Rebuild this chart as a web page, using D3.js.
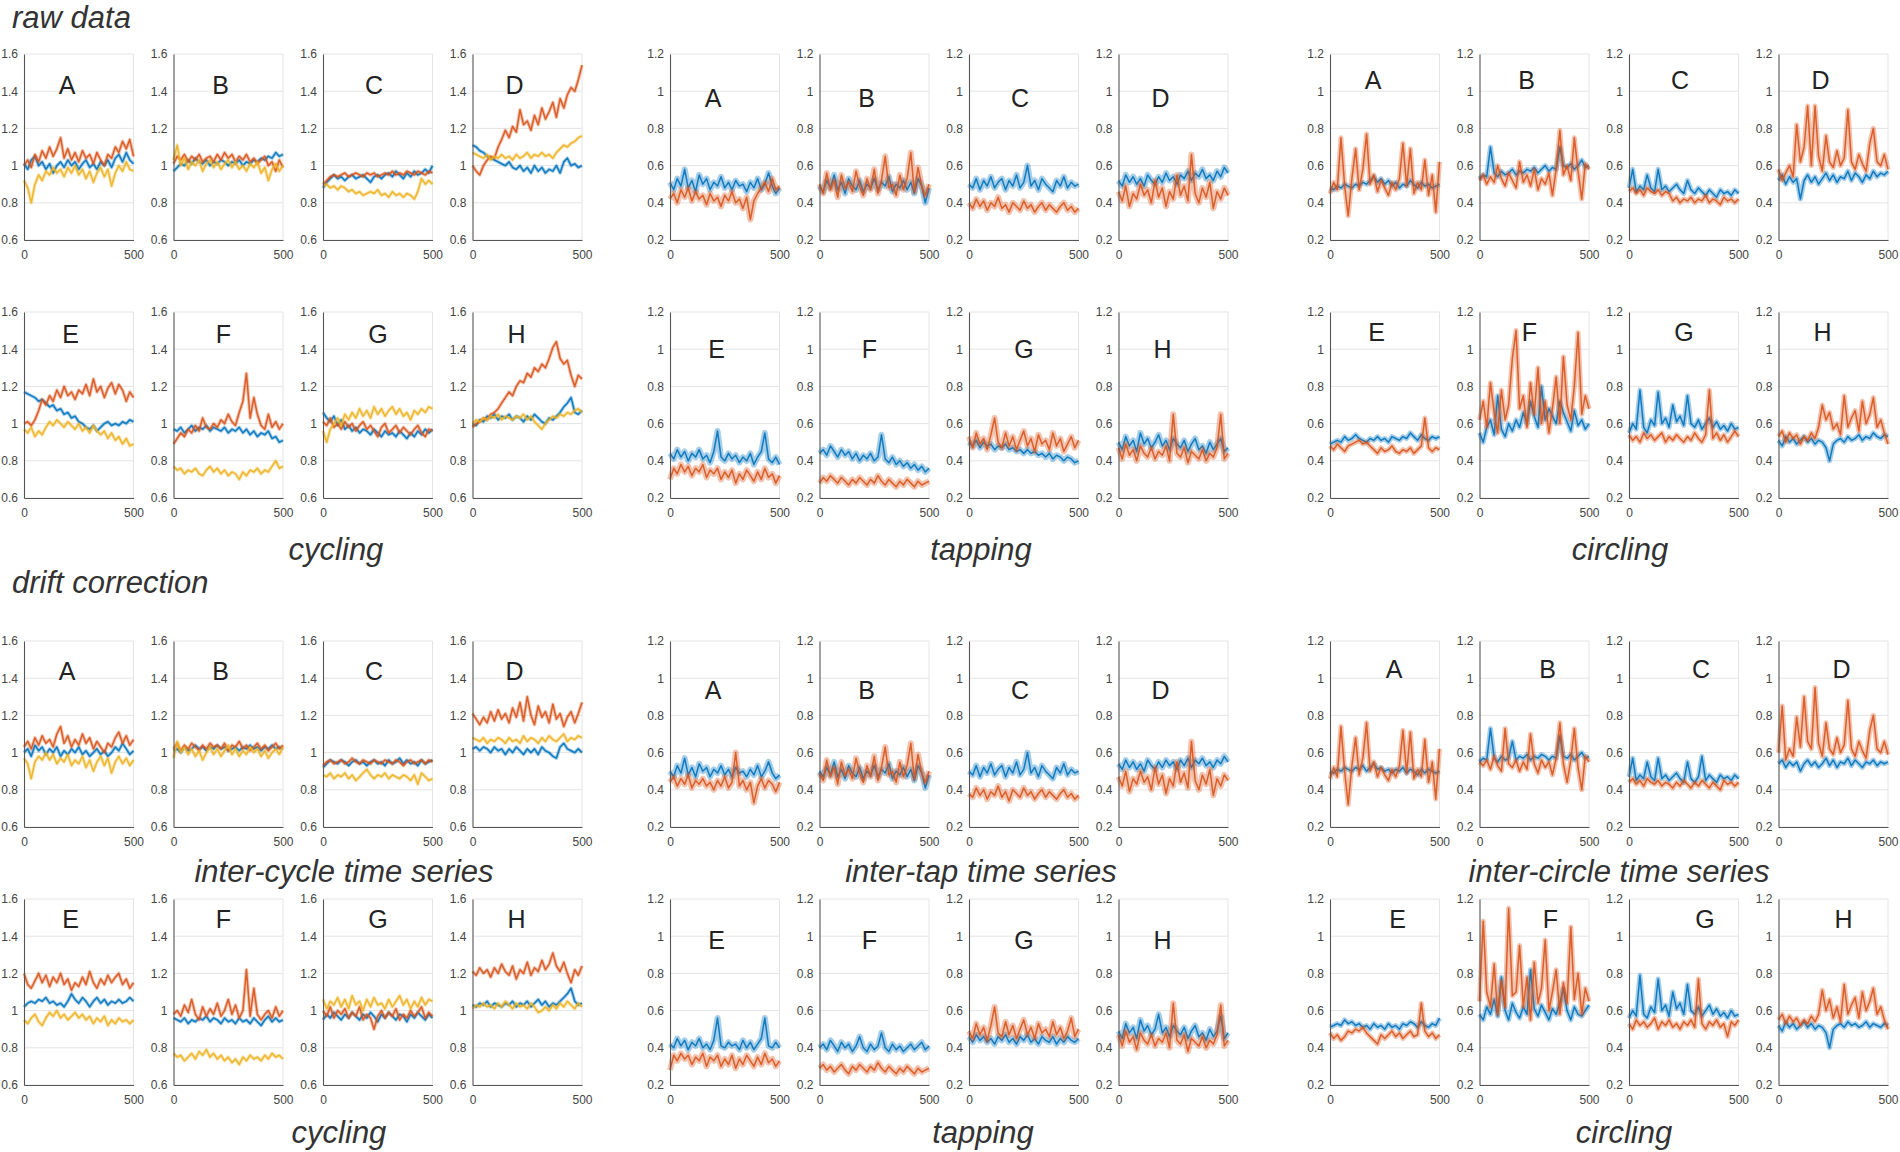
<!DOCTYPE html>
<html>
<head>
<meta charset="utf-8">
<script src="https://cdn.jsdelivr.net/npm/d3@7"></script>
<style>
  body { margin: 0; background: #fff; }
  svg text { font-family: "Liberation Sans", Arial, Helvetica, sans-serif; }
</style>
</head>
<body>
<svg id="chart" width="1900" height="1152"></svg>
<script>
// trial numbers of the sampled points (x axis)
const trialNo = [0,17,33,50,67,83,100,117,133,150,167,183,200,217,233,250,267,283,300,317,333,350,367,383,400,417,433,450,467,483,500];

const cycTicks = [0.6, 0.8, 1, 1.2, 1.4, 1.6];
const tapTicks = [0.2, 0.4, 0.6, 0.8, 1, 1.2];
const letters = ['A','B','C','D','E','F','G','H'];

// ---------- cycling, raw data (b = blue, r = red, y = yellow) ----------
const cycRawA_b = [1.01,0.98,1.03,1.05,1.00,1.02,0.98,1.01,0.96,1.00,1.02,0.99,1.03,1.00,1.02,0.98,1.01,1.03,0.99,1.01,0.98,1.02,1.00,1.03,0.99,1.04,1.06,1.02,1.07,1.03,1.01];
const cycRawA_r = [1.00,1.03,0.99,1.06,1.02,1.08,1.04,1.10,1.05,1.09,1.15,1.04,1.09,1.03,1.07,1.02,1.08,1.04,1.06,1.01,1.07,1.03,1.00,1.06,1.04,1.10,1.07,1.13,1.09,1.14,1.05];
const cycRawA_y = [0.92,0.88,0.80,0.90,0.95,0.92,0.97,0.95,0.99,0.96,0.98,0.94,0.99,0.96,1.00,0.95,0.98,0.93,0.97,0.91,0.96,0.99,0.94,0.98,0.89,0.96,1.00,0.97,1.02,0.98,0.97];
const cycRawB_b = [0.97,0.99,1.01,1.00,1.03,1.01,1.04,1.02,1.01,1.03,1.00,1.02,1.01,1.03,1.02,1.00,1.02,1.01,1.03,1.00,1.02,1.01,1.03,1.02,1.04,1.03,1.05,1.04,1.07,1.05,1.06];
const cycRawB_r = [1.01,1.05,1.03,1.06,1.02,1.05,1.03,1.06,1.02,1.04,1.05,1.02,1.06,1.03,1.07,1.04,1.06,1.02,1.05,1.03,1.06,1.02,1.04,1.01,1.03,1.05,1.00,1.02,0.97,1.03,0.99];
const cycRawB_y = [1.03,1.11,1.00,1.04,0.98,1.02,1.00,1.03,0.97,1.01,1.03,0.99,1.02,0.98,1.01,1.03,0.99,1.02,0.98,1.00,0.97,1.01,0.99,1.02,0.96,0.99,0.92,0.98,1.01,0.97,1.00];
const cycRawC_b = [0.88,0.91,0.93,0.95,0.93,0.94,0.92,0.94,0.95,0.93,0.94,0.95,0.93,0.91,0.94,0.95,0.93,0.95,0.96,0.94,0.97,0.95,0.93,0.96,0.94,0.97,0.95,0.96,0.98,0.96,1.00];
const cycRawC_r = [0.90,0.92,0.94,0.95,0.94,0.95,0.96,0.94,0.95,0.96,0.95,0.94,0.96,0.95,0.96,0.94,0.95,0.96,0.95,0.97,0.95,0.96,0.95,0.97,0.96,0.95,0.97,0.96,0.95,0.97,0.96];
const cycRawC_y = [0.89,0.90,0.88,0.89,0.87,0.89,0.88,0.86,0.87,0.85,0.86,0.84,0.85,0.86,0.85,0.87,0.84,0.85,0.83,0.86,0.84,0.85,0.83,0.85,0.84,0.82,0.86,0.93,0.90,0.92,0.90];
const cycRawD_b = [1.11,1.10,1.08,1.07,1.05,1.04,1.03,1.02,1.01,1.00,1.02,0.99,0.98,1.00,0.97,0.99,0.96,1.00,0.97,0.99,0.96,0.98,0.97,1.00,0.96,1.02,1.04,1.00,1.01,0.99,1.00];
const cycRawD_r = [1.00,0.97,0.95,1.00,1.03,1.05,1.04,1.10,1.14,1.19,1.15,1.21,1.18,1.30,1.22,1.24,1.19,1.27,1.22,1.31,1.25,1.29,1.34,1.26,1.36,1.31,1.38,1.42,1.40,1.46,1.54];
const cycRawD_y = [1.07,1.06,1.05,1.04,1.06,1.03,1.05,1.04,1.06,1.04,1.05,1.03,1.06,1.04,1.05,1.07,1.04,1.06,1.05,1.07,1.05,1.06,1.04,1.07,1.09,1.11,1.10,1.12,1.13,1.15,1.16];
const cycRawE_b = [1.17,1.16,1.15,1.14,1.12,1.13,1.11,1.09,1.10,1.07,1.08,1.05,1.06,1.03,1.04,1.01,1.00,0.98,0.97,0.99,0.96,0.98,1.00,1.01,0.99,1.00,0.99,1.01,1.00,1.02,1.01];
const cycRawE_r = [1.00,1.01,0.99,1.02,1.07,1.13,1.10,1.15,1.12,1.18,1.14,1.20,1.15,1.17,1.13,1.18,1.16,1.21,1.15,1.24,1.17,1.20,1.14,1.19,1.22,1.16,1.21,1.18,1.12,1.17,1.14];
const cycRawE_y = [0.97,0.95,0.98,0.93,0.96,0.94,0.98,1.01,0.99,1.02,1.00,0.98,1.01,0.99,0.97,1.00,0.96,0.98,0.95,0.99,0.96,0.94,0.96,0.92,0.95,0.91,0.93,0.89,0.92,0.88,0.89];
const cycRawF_b = [0.97,0.96,0.98,0.95,0.97,0.99,0.96,0.98,0.97,0.99,0.96,0.98,0.97,0.96,0.98,0.95,0.97,0.96,0.98,0.95,0.97,0.94,0.96,0.93,0.95,0.94,0.96,0.92,0.93,0.90,0.91];
const cycRawF_r = [0.89,0.92,0.95,0.93,0.97,0.95,0.99,0.96,1.03,0.98,0.97,1.00,0.98,1.02,1.00,1.05,1.01,0.99,1.06,1.12,1.27,1.03,1.14,1.05,0.99,0.97,1.05,0.98,1.01,0.97,1.00];
const cycRawF_y = [0.77,0.75,0.76,0.73,0.75,0.74,0.76,0.73,0.72,0.75,0.77,0.74,0.76,0.73,0.75,0.72,0.74,0.73,0.70,0.74,0.72,0.75,0.74,0.76,0.73,0.75,0.74,0.77,0.80,0.76,0.77];
const cycRawG_b = [1.06,1.03,1.01,1.04,0.99,1.02,0.97,0.99,0.96,0.98,0.95,0.97,0.96,0.94,0.97,0.95,0.93,0.96,0.94,0.95,0.93,0.96,0.94,0.92,0.95,0.93,0.96,0.94,0.97,0.95,0.97];
const cycRawG_r = [1.01,0.99,1.03,0.98,1.00,0.97,1.01,0.98,1.00,0.96,0.99,1.01,0.97,0.99,0.96,0.93,0.98,1.00,0.95,0.97,0.99,0.95,0.98,0.96,0.94,0.97,0.99,0.95,0.93,0.97,0.96];
const cycRawG_y = [0.96,0.90,0.97,1.00,1.03,0.99,1.05,1.02,1.06,1.03,1.08,1.04,1.07,1.03,1.09,1.05,1.08,1.04,1.07,1.09,1.05,1.08,1.04,1.06,1.02,1.07,1.05,1.08,1.06,1.09,1.08];
const cycRawH_b = [1.00,0.99,1.02,1.01,1.04,1.03,1.05,1.02,1.04,1.03,1.05,1.02,1.04,1.03,1.01,1.04,1.02,1.05,1.03,1.01,1.00,1.03,1.02,1.04,1.06,1.09,1.11,1.14,1.06,1.05,1.07];
const cycRawH_r = [0.98,1.00,1.01,1.03,1.02,1.05,1.06,1.08,1.11,1.14,1.17,1.15,1.20,1.23,1.22,1.27,1.25,1.30,1.28,1.32,1.30,1.35,1.41,1.44,1.35,1.32,1.34,1.26,1.20,1.26,1.24];
const cycRawH_y = [1.00,1.02,1.01,1.03,1.02,1.04,1.03,1.05,1.02,1.04,1.03,1.02,1.04,1.03,1.05,1.02,1.04,1.01,0.99,0.97,1.00,1.02,1.04,1.03,1.05,1.04,1.06,1.05,1.07,1.08,1.06];

// ---------- cycling, drift corrected ----------
const cycDetA_b = [1.00,1.02,0.98,1.04,1.01,1.03,0.99,1.02,1.00,1.03,0.98,1.01,0.99,1.02,1.00,1.03,0.99,1.01,0.98,1.00,1.02,0.99,1.01,0.98,1.00,1.03,1.01,1.05,1.02,0.99,1.01];
const cycDetA_r = [1.03,1.06,1.02,1.08,1.04,1.09,1.05,1.07,1.03,1.10,1.14,1.05,1.09,1.03,1.07,1.04,1.10,1.05,1.08,1.02,1.06,1.03,1.00,1.05,1.03,1.08,1.11,1.05,1.09,1.04,1.07];
const cycDetA_y = [0.97,0.94,0.86,0.95,0.98,0.96,1.00,0.96,0.99,0.94,0.97,0.95,0.99,0.93,0.96,0.94,0.98,0.92,0.96,0.90,0.95,0.98,0.93,0.97,0.89,0.95,0.98,0.94,0.97,0.93,0.96];
const cycDetB_b = [1.01,1.02,1.00,1.03,1.01,1.02,1.04,1.02,1.03,1.01,1.03,1.02,1.04,1.02,1.03,1.01,1.02,1.03,1.01,1.03,1.02,1.04,1.02,1.03,1.01,1.03,1.02,1.04,1.02,1.03,1.02];
const cycDetB_r = [1.02,1.05,1.01,1.04,1.02,1.05,1.03,1.01,1.04,1.02,1.05,1.03,1.04,1.02,1.05,1.01,1.04,1.03,1.06,1.02,1.04,1.01,1.03,1.05,1.02,1.04,1.01,1.03,1.05,1.02,1.04];
const cycDetB_y = [0.97,1.06,1.00,1.03,0.99,1.02,0.98,1.01,0.96,1.00,1.03,0.99,1.02,0.98,1.01,1.04,0.99,1.02,0.98,1.01,0.99,1.03,1.00,1.02,0.98,1.01,0.97,1.00,1.02,0.99,1.03];
const cycDetC_b = [0.92,0.94,0.96,0.95,0.94,0.96,0.95,0.93,0.95,0.96,0.94,0.95,0.93,0.95,0.96,0.94,0.95,0.93,0.96,0.94,0.95,0.97,0.94,0.96,0.94,0.95,0.93,0.96,0.94,0.95,0.96];
const cycDetC_r = [0.93,0.95,0.96,0.94,0.95,0.96,0.94,0.95,0.97,0.95,0.94,0.96,0.95,0.94,0.96,0.95,0.94,0.96,0.95,0.94,0.96,0.95,0.93,0.95,0.96,0.94,0.95,0.96,0.94,0.96,0.95];
const cycDetC_y = [0.88,0.87,0.89,0.86,0.88,0.87,0.89,0.86,0.88,0.85,0.87,0.89,0.91,0.88,0.86,0.88,0.87,0.89,0.86,0.88,0.87,0.86,0.88,0.87,0.85,0.88,0.83,0.89,0.87,0.85,0.86];
const cycDetD_b = [1.02,1.03,1.01,1.03,1.02,1.00,1.03,1.01,1.02,0.99,1.02,1.00,1.03,1.01,0.99,1.02,1.00,1.02,0.99,1.03,1.01,1.00,0.98,0.97,1.03,1.05,1.02,1.01,1.00,1.02,1.00];
const cycDetD_r = [1.21,1.18,1.15,1.19,1.16,1.22,1.17,1.23,1.18,1.21,1.16,1.24,1.19,1.27,1.17,1.30,1.20,1.15,1.25,1.19,1.22,1.16,1.26,1.18,1.21,1.14,1.19,1.22,1.16,1.21,1.27];
const cycDetD_y = [1.08,1.07,1.06,1.08,1.05,1.07,1.06,1.08,1.07,1.05,1.08,1.06,1.07,1.05,1.09,1.06,1.08,1.07,1.05,1.08,1.06,1.09,1.07,1.06,1.08,1.10,1.06,1.08,1.07,1.09,1.08];
const cycDetE_b = [1.02,1.04,1.05,1.04,1.06,1.05,1.07,1.04,1.05,1.03,1.04,1.02,1.05,1.09,1.06,1.04,1.07,1.05,1.02,1.05,1.07,1.04,1.06,1.03,1.05,1.04,1.06,1.04,1.05,1.07,1.05];
const cycDetE_r = [1.20,1.14,1.12,1.16,1.20,1.15,1.19,1.13,1.18,1.15,1.20,1.14,1.17,1.11,1.15,1.13,1.18,1.14,1.21,1.15,1.12,1.17,1.14,1.19,1.15,1.18,1.20,1.14,1.17,1.12,1.15];
const cycDetE_y = [0.95,0.93,0.96,0.98,0.94,0.92,0.96,0.99,0.97,1.00,0.96,0.98,0.95,0.97,0.99,0.96,0.98,0.95,0.97,0.93,0.96,0.94,0.97,0.92,0.95,0.93,0.96,0.94,0.95,0.93,0.95];
const cycDetF_b = [0.96,0.95,0.94,0.96,0.93,0.95,0.94,0.96,0.95,0.97,0.94,0.96,0.95,0.93,0.96,0.94,0.95,0.93,0.96,0.94,0.95,0.93,0.96,0.94,0.92,0.95,0.97,0.94,0.96,0.94,0.95];
const cycDetF_r = [0.98,1.00,0.97,1.03,0.99,1.06,0.98,0.95,1.02,0.97,1.01,0.98,1.04,0.97,1.00,1.06,0.98,1.03,0.96,1.00,1.22,0.97,1.12,0.98,0.95,0.98,1.00,0.96,1.02,0.97,1.00];
const cycDetF_y = [0.77,0.75,0.76,0.73,0.75,0.77,0.74,0.78,0.76,0.79,0.75,0.77,0.74,0.76,0.73,0.75,0.72,0.74,0.71,0.75,0.73,0.76,0.74,0.75,0.73,0.76,0.74,0.77,0.75,0.76,0.74];
const cycDetG_b = [0.95,0.98,0.96,0.99,0.97,0.95,0.98,0.96,0.99,0.97,0.95,0.98,0.96,0.99,0.97,0.94,0.98,0.96,0.99,0.97,0.95,0.98,0.97,0.94,0.98,0.96,0.99,0.97,0.95,0.98,0.96];
const cycDetG_r = [1.00,0.97,1.02,0.96,1.00,0.98,1.01,0.96,0.99,0.97,1.02,0.95,0.98,0.96,0.90,0.97,1.00,0.96,0.99,0.97,1.01,0.95,0.98,0.96,1.00,0.97,0.99,1.02,0.96,0.99,0.97];
const cycDetG_y = [1.06,1.01,1.05,1.03,1.07,1.02,1.06,1.01,1.08,1.03,1.05,1.00,1.06,1.02,1.07,1.03,1.04,1.01,1.06,1.02,1.05,1.08,1.03,1.06,1.01,1.05,1.02,1.07,1.03,1.06,1.05];
const cycDetH_b = [1.03,1.02,1.04,1.03,1.05,1.02,1.04,1.03,1.02,1.04,1.03,1.05,1.02,1.04,1.03,1.05,1.02,1.04,1.06,1.03,1.05,1.02,1.04,1.03,1.05,1.07,1.09,1.12,1.05,1.03,1.04];
const cycDetH_r = [1.21,1.19,1.23,1.20,1.22,1.18,1.23,1.20,1.25,1.21,1.19,1.24,1.17,1.22,1.20,1.26,1.19,1.23,1.21,1.27,1.22,1.25,1.31,1.24,1.21,1.26,1.20,1.15,1.22,1.19,1.24];
const cycDetH_y = [1.01,1.03,1.02,1.04,1.02,1.03,1.01,1.04,1.02,1.05,1.03,1.01,1.04,1.02,1.03,1.01,1.04,1.02,0.99,1.00,1.02,1.00,1.03,1.01,1.04,1.02,1.05,1.03,1.01,1.04,1.02];

// ---------- tapping, raw data ----------
const tapRawA_b = [.51,.47,.53,.49,.58,.48,.52,.46,.55,.50,.53,.47,.51,.49,.54,.48,.51,.47,.52,.49,.50,.46,.51,.48,.53,.47,.50,.56,.49,.45,.48];
const tapRawA_r = [.42,.45,.40,.47,.43,.48,.41,.46,.42,.44,.39,.45,.41,.43,.38,.44,.41,.46,.40,.42,.37,.43,.31,.41,.45,.48,.51,.46,.53,.47,.49];
const tapRawB_b = [.49,.46,.52,.48,.55,.47,.51,.45,.53,.49,.47,.52,.46,.50,.48,.53,.47,.51,.49,.54,.46,.50,.48,.52,.47,.51,.45,.53,.49,.40,.48];
const tapRawB_r = [.50,.45,.56,.47,.52,.43,.55,.48,.51,.46,.57,.49,.44,.53,.47,.58,.45,.52,.65,.48,.50,.44,.55,.47,.53,.67,.46,.59,.49,.44,.50];
const tapRawC_b = [.50,.48,.53,.47,.52,.49,.54,.48,.51,.53,.47,.52,.49,.55,.48,.51,.60,.49,.52,.47,.53,.50,.48,.46,.52,.49,.54,.48,.51,.49,.50];
const tapRawC_r = [.40,.37,.42,.38,.41,.36,.40,.38,.43,.37,.39,.35,.40,.38,.36,.41,.37,.39,.35,.38,.40,.36,.39,.37,.35,.38,.40,.36,.38,.35,.37];
const tapRawD_b = [.52,.49,.55,.51,.54,.50,.53,.49,.55,.52,.50,.54,.51,.56,.52,.54,.50,.55,.53,.57,.52,.56,.54,.58,.53,.55,.52,.57,.54,.59,.56];
const tapRawD_r = [.46,.41,.49,.38,.45,.42,.50,.44,.47,.40,.52,.43,.48,.38,.46,.42,.55,.44,.49,.41,.66,.45,.40,.48,.43,.51,.37,.46,.42,.48,.44];
const tapRawE_b = [.44,.41,.46,.42,.45,.40,.44,.42,.46,.41,.43,.39,.45,.56,.42,.40,.44,.41,.43,.39,.42,.40,.44,.38,.42,.45,.55,.41,.39,.42,.38];
const tapRawE_r = [.30,.36,.33,.38,.34,.37,.32,.36,.34,.38,.31,.35,.33,.36,.30,.34,.31,.35,.28,.33,.30,.35,.32,.29,.34,.30,.36,.31,.33,.28,.32];
const tapRawF_b = [.44,.46,.43,.48,.45,.42,.46,.43,.45,.41,.44,.40,.43,.41,.44,.40,.42,.54,.41,.39,.42,.38,.40,.37,.39,.36,.38,.35,.37,.34,.36];
const tapRawF_r = [.28,.31,.29,.32,.30,.28,.31,.29,.27,.30,.28,.31,.29,.27,.30,.28,.32,.29,.27,.30,.28,.26,.29,.27,.30,.28,.26,.29,.27,.28,.29];
const tapRawG_b = [.50,.48,.51,.47,.50,.48,.49,.46,.48,.47,.49,.46,.47,.45,.46,.44,.46,.44,.45,.43,.44,.42,.44,.41,.43,.42,.40,.42,.41,.39,.40];
const tapRawG_r = [.53,.47,.55,.49,.52,.46,.54,.63,.50,.47,.55,.48,.53,.46,.51,.56,.48,.52,.45,.54,.49,.51,.46,.55,.48,.52,.45,.49,.53,.47,.51];
const tapRawH_b = [.50,.46,.53,.48,.51,.45,.55,.49,.52,.47,.50,.54,.48,.51,.46,.52,.49,.47,.51,.45,.49,.52,.46,.48,.44,.50,.46,.49,.52,.45,.47];
const tapRawH_r = [.47,.41,.49,.43,.46,.40,.48,.44,.42,.47,.41,.45,.43,.48,.40,.65,.44,.42,.47,.39,.45,.43,.41,.46,.40,.44,.42,.47,.65,.41,.44];

// ---------- tapping, drift corrected ----------
const tapDetA_b = [.50,.47,.53,.49,.57,.48,.52,.47,.54,.50,.52,.47,.51,.49,.53,.48,.51,.47,.52,.49,.50,.47,.51,.48,.53,.47,.50,.55,.49,.46,.48];
const tapDetA_r = [.44,.47,.42,.46,.43,.48,.41,.45,.43,.46,.42,.44,.40,.45,.42,.47,.41,.44,.60,.42,.45,.40,.44,.33,.42,.46,.41,.45,.43,.39,.44];
const tapDetB_b = [.50,.47,.52,.48,.55,.47,.51,.46,.53,.49,.47,.52,.46,.50,.48,.53,.47,.51,.49,.54,.46,.50,.48,.52,.47,.51,.45,.53,.49,.41,.48];
const tapDetB_r = [.49,.45,.56,.47,.52,.43,.55,.48,.51,.46,.57,.49,.44,.53,.47,.58,.45,.52,.63,.48,.50,.44,.55,.47,.53,.65,.46,.59,.49,.44,.50];
const tapDetC_b = [.50,.48,.53,.47,.52,.49,.54,.48,.51,.53,.47,.52,.49,.55,.48,.51,.60,.49,.52,.47,.53,.50,.48,.46,.52,.49,.54,.48,.51,.49,.50];
const tapDetC_r = [.38,.36,.41,.37,.40,.35,.39,.37,.42,.36,.39,.34,.40,.38,.36,.41,.37,.39,.35,.38,.40,.36,.39,.37,.35,.38,.40,.36,.38,.35,.37];
const tapDetD_b = [.54,.51,.56,.52,.55,.51,.54,.50,.56,.53,.51,.55,.52,.56,.53,.55,.51,.56,.53,.57,.52,.56,.54,.57,.53,.55,.52,.56,.54,.58,.55];
const tapDetD_r = [.47,.42,.50,.39,.46,.43,.50,.44,.47,.40,.52,.43,.48,.38,.46,.42,.55,.44,.49,.41,.66,.45,.40,.48,.43,.51,.37,.46,.42,.48,.45];
const tapDetE_b = [.42,.40,.45,.41,.44,.39,.43,.41,.45,.40,.42,.39,.44,.56,.41,.40,.43,.41,.42,.39,.44,.40,.43,.39,.42,.45,.56,.41,.40,.43,.40];
const tapDetE_r = [.28,.36,.33,.37,.34,.36,.31,.35,.33,.37,.30,.35,.33,.36,.30,.34,.31,.36,.29,.34,.31,.36,.33,.30,.35,.31,.37,.32,.34,.30,.33];
const tapDetF_b = [.40,.42,.39,.44,.41,.38,.43,.40,.42,.38,.41,.46,.40,.38,.42,.39,.41,.48,.40,.38,.42,.39,.41,.38,.40,.42,.39,.41,.43,.39,.41];
const tapDetF_r = [.29,.31,.28,.30,.27,.29,.31,.28,.26,.30,.28,.31,.29,.27,.30,.28,.32,.29,.27,.30,.28,.26,.29,.27,.30,.28,.26,.29,.27,.28,.29];
const tapDetG_b = [.46,.43,.47,.44,.46,.43,.45,.42,.46,.44,.47,.43,.45,.42,.46,.44,.47,.43,.45,.42,.46,.44,.43,.46,.42,.45,.43,.46,.44,.43,.45];
const tapDetG_r = [.49,.45,.53,.47,.51,.44,.52,.62,.48,.46,.54,.47,.52,.45,.50,.55,.47,.51,.45,.53,.48,.50,.46,.54,.47,.51,.45,.49,.56,.46,.50];
const tapDetH_b = [.49,.45,.53,.48,.51,.45,.55,.49,.52,.47,.50,.58,.48,.51,.46,.52,.49,.47,.51,.45,.49,.52,.46,.48,.44,.50,.46,.49,.57,.45,.48];
const tapDetH_r = [.47,.41,.49,.43,.46,.39,.48,.44,.42,.47,.41,.45,.43,.48,.40,.64,.44,.42,.47,.38,.45,.43,.41,.46,.40,.44,.42,.47,.63,.41,.44];

// ---------- circling, raw data ----------
const cirRawA_b = [.48,.47,.49,.48,.50,.49,.48,.50,.49,.51,.50,.52,.54,.51,.53,.50,.52,.49,.51,.48,.50,.49,.52,.50,.48,.51,.49,.50,.48,.49,.50];
const cirRawA_r = [.45,.51,.47,.75,.49,.33,.53,.69,.47,.58,.77,.50,.55,.46,.52,.48,.44,.51,.47,.53,.72,.49,.69,.45,.51,.47,.63,.44,.55,.35,.62];
const cirRawB_b = [.53,.55,.54,.70,.56,.54,.57,.55,.56,.58,.55,.57,.56,.58,.57,.59,.56,.58,.60,.57,.59,.58,.70,.60,.59,.61,.58,.60,.63,.59,.60];
const cirRawB_r = [.52,.55,.50,.54,.51,.60,.53,.49,.56,.52,.48,.62,.51,.55,.49,.58,.47,.53,.50,.56,.44,.58,.79,.55,.60,.52,.75,.57,.42,.61,.58];
const cirRawC_b = [.48,.58,.46,.49,.47,.55,.48,.46,.58,.47,.49,.46,.48,.50,.47,.45,.52,.47,.45,.48,.46,.44,.47,.45,.43,.47,.45,.46,.44,.47,.45];
const cirRawC_r = [.46,.48,.45,.47,.44,.48,.46,.45,.47,.44,.46,.45,.41,.43,.40,.42,.41,.43,.40,.42,.41,.44,.40,.42,.41,.39,.43,.41,.42,.40,.42];
const cirRawD_b = [.52,.55,.50,.54,.51,.53,.42,.52,.55,.51,.54,.50,.53,.56,.52,.55,.51,.54,.53,.57,.52,.56,.54,.51,.55,.53,.57,.54,.56,.55,.57];
const cirRawD_r = [.58,.52,.56,.60,.54,.82,.62,.70,.92,.60,.92,.65,.57,.76,.62,.59,.68,.60,.64,.90,.62,.58,.66,.61,.57,.72,.80,.62,.60,.66,.58];
const cirRawE_b = [.49,.50,.51,.50,.53,.51,.52,.54,.52,.51,.50,.52,.51,.53,.51,.52,.50,.53,.52,.51,.53,.52,.55,.53,.51,.54,.52,.51,.53,.52,.53];
const cirRawE_r = [.48,.46,.49,.47,.45,.48,.49,.50,.51,.49,.50,.48,.46,.44,.47,.45,.46,.48,.45,.44,.46,.45,.47,.44,.46,.48,.63,.47,.45,.47,.46];
const cirRawF_b = [.55,.50,.58,.62,.54,.75,.57,.53,.60,.56,.62,.58,.66,.60,.72,.64,.58,.80,.62,.68,.64,.60,.72,.66,.61,.56,.67,.59,.62,.57,.60];
const cirRawF_r = [.62,.72,.58,.82,.66,.55,.78,.62,.70,.95,1.10,.68,.75,.58,.82,.65,.90,.60,.72,.55,.68,.85,.60,.96,.70,.62,.80,1.09,.65,.75,.68];
const cirRawG_b = [.55,.60,.57,.78,.58,.55,.62,.59,.77,.60,.63,.58,.70,.61,.64,.59,.75,.60,.58,.62,.57,.60,.63,.58,.61,.57,.59,.56,.60,.57,.58];
const cirRawG_r = [.54,.51,.53,.50,.55,.52,.54,.51,.53,.55,.50,.53,.51,.54,.52,.50,.53,.51,.55,.52,.50,.54,.78,.52,.55,.51,.54,.50,.53,.56,.53];
const cirRawH_b = [.51,.48,.53,.50,.52,.49,.51,.53,.50,.52,.49,.51,.50,.47,.40,.49,.51,.52,.50,.53,.51,.52,.54,.51,.53,.52,.55,.53,.52,.54,.53];
const cirRawH_r = [.53,.56,.50,.55,.52,.54,.49,.53,.51,.55,.52,.58,.70,.62,.66,.57,.60,.54,.75,.58,.63,.67,.56,.72,.60,.65,.74,.58,.62,.55,.49];

// ---------- circling, drift corrected ----------
const cirDetA_b = [.50,.49,.51,.50,.52,.51,.50,.52,.51,.53,.50,.52,.54,.51,.52,.50,.51,.49,.51,.50,.52,.49,.51,.50,.48,.51,.49,.51,.50,.49,.50];
const cirDetA_r = [.46,.52,.47,.74,.50,.32,.53,.68,.48,.57,.76,.50,.55,.47,.52,.48,.45,.51,.47,.53,.72,.49,.71,.46,.51,.47,.67,.44,.55,.35,.62];
const cirDetB_b = [.55,.57,.56,.73,.57,.55,.58,.56,.57,.66,.56,.58,.57,.59,.56,.58,.57,.59,.58,.56,.58,.57,.69,.58,.57,.59,.56,.58,.60,.57,.58];
const cirDetB_r = [.55,.53,.56,.51,.58,.53,.50,.73,.54,.52,.56,.50,.55,.51,.70,.54,.49,.56,.52,.55,.48,.57,.76,.54,.44,.56,.73,.52,.40,.58,.55];
const cirDetC_b = [.47,.57,.45,.48,.46,.55,.47,.45,.57,.46,.48,.45,.47,.49,.46,.44,.55,.46,.44,.47,.58,.45,.48,.46,.44,.48,.46,.47,.45,.48,.46];
const cirDetC_r = [.44,.46,.43,.45,.42,.46,.44,.43,.45,.42,.44,.43,.41,.44,.42,.45,.43,.41,.44,.42,.45,.43,.41,.44,.42,.40,.45,.43,.44,.42,.44];
const cirDetD_b = [.54,.56,.52,.55,.53,.55,.50,.54,.56,.53,.55,.52,.54,.57,.53,.56,.52,.55,.54,.57,.53,.56,.54,.52,.55,.54,.56,.53,.55,.54,.55];
const cirDetD_r = [.60,.85,.56,.62,.58,.79,.63,.90,.66,.62,.95,.65,.58,.76,.62,.59,.68,.60,.64,.88,.62,.58,.66,.61,.57,.72,.80,.62,.60,.66,.59];
const cirDetE_b = [.51,.52,.53,.52,.55,.53,.54,.52,.53,.51,.52,.50,.53,.51,.52,.50,.53,.51,.52,.50,.53,.52,.54,.53,.51,.54,.52,.51,.53,.52,.56];
const cirDetE_r = [.48,.45,.47,.44,.46,.49,.48,.50,.49,.51,.48,.46,.44,.42,.47,.45,.47,.49,.46,.48,.45,.47,.49,.46,.47,.64,.49,.46,.48,.45,.47];
const cirDetF_b = [.58,.55,.62,.58,.66,.57,.78,.60,.55,.64,.59,.56,.62,.58,.82,.61,.57,.63,.59,.55,.61,.58,.64,.72,.60,.55,.62,.58,.57,.60,.63];
const cirDetF_r = [.65,1.08,.70,.62,.85,.58,.76,.62,1.15,.68,.70,.95,.62,.78,.55,.86,.64,.72,.98,.60,.70,.82,.58,.75,.64,1.05,.66,.80,.58,.72,.65];
const cirDetG_b = [.56,.60,.57,.79,.58,.56,.62,.59,.77,.60,.63,.57,.70,.61,.64,.58,.74,.60,.58,.62,.57,.60,.63,.58,.61,.57,.59,.56,.60,.57,.58];
const cirDetG_r = [.53,.50,.55,.52,.54,.51,.53,.56,.50,.54,.52,.55,.51,.53,.50,.54,.52,.55,.51,.77,.53,.50,.54,.52,.55,.51,.53,.46,.54,.52,.55];
const cirDetH_b = [.52,.49,.54,.51,.53,.50,.52,.54,.51,.53,.50,.52,.51,.48,.40,.50,.52,.53,.51,.54,.52,.53,.51,.52,.54,.51,.53,.52,.51,.53,.52];
const cirDetH_r = [.55,.58,.53,.57,.54,.56,.52,.55,.53,.57,.54,.58,.71,.60,.66,.56,.62,.54,.74,.58,.63,.67,.56,.70,.60,.65,.72,.58,.62,.55,.50];

// ---------- lookup tables built from the arrays ----------
const cycColors = ['#0072BD', '#D95319', '#EDB120'];
const twoColors = ['#0072BD', '#D95319'];

const cycRaw = {A:[cycRawA_b,cycRawA_r,cycRawA_y], B:[cycRawB_b,cycRawB_r,cycRawB_y], C:[cycRawC_b,cycRawC_r,cycRawC_y], D:[cycRawD_b,cycRawD_r,cycRawD_y],
                E:[cycRawE_b,cycRawE_r,cycRawE_y], F:[cycRawF_b,cycRawF_r,cycRawF_y], G:[cycRawG_b,cycRawG_r,cycRawG_y], H:[cycRawH_b,cycRawH_r,cycRawH_y]};
const cycDet = {A:[cycDetA_b,cycDetA_r,cycDetA_y], B:[cycDetB_b,cycDetB_r,cycDetB_y], C:[cycDetC_b,cycDetC_r,cycDetC_y], D:[cycDetD_b,cycDetD_r,cycDetD_y],
                E:[cycDetE_b,cycDetE_r,cycDetE_y], F:[cycDetF_b,cycDetF_r,cycDetF_y], G:[cycDetG_b,cycDetG_r,cycDetG_y], H:[cycDetH_b,cycDetH_r,cycDetH_y]};
const tapRaw = {A:[tapRawA_b,tapRawA_r], B:[tapRawB_b,tapRawB_r], C:[tapRawC_b,tapRawC_r], D:[tapRawD_b,tapRawD_r],
                E:[tapRawE_b,tapRawE_r], F:[tapRawF_b,tapRawF_r], G:[tapRawG_b,tapRawG_r], H:[tapRawH_b,tapRawH_r]};
const tapDet = {A:[tapDetA_b,tapDetA_r], B:[tapDetB_b,tapDetB_r], C:[tapDetC_b,tapDetC_r], D:[tapDetD_b,tapDetD_r],
                E:[tapDetE_b,tapDetE_r], F:[tapDetF_b,tapDetF_r], G:[tapDetG_b,tapDetG_r], H:[tapDetH_b,tapDetH_r]};
const cirRaw = {A:[cirRawA_b,cirRawA_r], B:[cirRawB_b,cirRawB_r], C:[cirRawC_b,cirRawC_r], D:[cirRawD_b,cirRawD_r],
                E:[cirRawE_b,cirRawE_r], F:[cirRawF_b,cirRawF_r], G:[cirRawG_b,cirRawG_r], H:[cirRawH_b,cirRawH_r]};
const cirDet = {A:[cirDetA_b,cirDetA_r], B:[cirDetB_b,cirDetB_r], C:[cirDetC_b,cirDetC_r], D:[cirDetD_b,cirDetD_r],
                E:[cirDetE_b,cirDetE_r], F:[cirDetF_b,cirDetF_r], G:[cirDetG_b,cirDetG_r], H:[cirDetH_b,cirDetH_r]};

// ---------- layout ----------
const rowTop = [54, 312, 641, 899];
const panelH = 186;
const panelW = 109.5;
const colStep = 149.5;

const groups = [
  { left: 24,   ticks: cycTicks, colors: cycColors, raw: cycRaw, det: cycDet, halo: 3.5,
    letterY: [40, 31, 38.5, 29], letterShift: [0, 0],
    labels: ['cycling', 'inter-cycle time series', 'cycling'], labelX: [336, 344, 339] },
  { left: 670,  ticks: tapTicks, colors: twoColors, raw: tapRaw, det: tapDet, halo: 6,
    letterY: [53, 46, 57.5, 49.5], letterShift: [0, 0],
    labels: ['tapping', 'inter-tap time series', 'tapping'], labelX: [981, 981, 983] },
  { left: 1330, ticks: tapTicks, colors: twoColors, raw: cirRaw, det: cirDet, halo: 5,
    letterY: [35, 29, 37, 29], letterShift: [0, 21],
    labels: ['circling', 'inter-circle time series', 'circling'], labelX: [1620, 1619, 1624] }
];
const letterXTop = [43, 47, 51, 42];
const letterXBottom = [46.5, 50, 55, 44];

const svg = d3.select('#chart');
const fmt = d3.format('~g');

function drawPanel(left, top, ticks, colors, halo, seriesList, letter, lx, ly) {
  const x = d3.scaleLinear().domain([0, 500]).range([0, panelW]);
  const y = d3.scaleLinear().domain([ticks[0], ticks[ticks.length - 1]]).range([panelH, 0]);
  const g = svg.append('g').attr('transform', `translate(${left},${top})`);

  // grid
  g.append('g').selectAll('line').data(ticks).enter().append('line')
    .attr('x1', 0).attr('x2', panelW)
    .attr('y1', d => y(d)).attr('y2', d => y(d))
    .attr('stroke', '#e4e4e4').attr('stroke-width', 1);
  g.append('line')
    .attr('x1', x(500)).attr('x2', x(500)).attr('y1', 0).attr('y2', panelH)
    .attr('stroke', '#e4e4e4').attr('stroke-width', 1);

  const line = d3.line()
    .x((d, i) => x(trialNo[i]))
    .y(d => y(d));

  seriesList.forEach((s, k) => {
    // soft band behind the line, as in the blurred noisy originals
    g.append('path')
      .datum(s)
      .attr('d', line)
      .attr('fill', 'none')
      .attr('stroke', colors[k])
      .attr('stroke-width', halo)
      .attr('stroke-opacity', 0.35)
      .attr('stroke-linejoin', 'round');
    g.append('path')
      .datum(s)
      .attr('d', line)
      .attr('fill', 'none')
      .attr('stroke', colors[k])
      .attr('stroke-width', 1.5)
      .attr('stroke-opacity', 0.9)
      .attr('stroke-linejoin', 'round');
  });

  // axes
  const ya = g.append('g')
    .call(d3.axisLeft(y).tickValues(ticks).tickSize(0).tickPadding(6).tickFormat(fmt));
  const xa = g.append('g')
    .attr('transform', `translate(0,${panelH})`)
    .call(d3.axisBottom(x).tickValues([0, 500]).tickSize(0).tickPadding(10).tickFormat(fmt));
  [ya, xa].forEach(a => {
    a.select('.domain').attr('stroke', '#555').attr('stroke-width', 1.1);
    a.selectAll('text').attr('font-size', 12).attr('fill', '#444')
      .attr('font-family', '"Liberation Sans", Arial, sans-serif');
  });

  g.append('text')
    .attr('x', lx).attr('y', ly)
    .attr('text-anchor', 'middle')
    .attr('font-size', 25)
    .attr('fill', '#222')
    .text(letter);
}

groups.forEach(grp => {
  [0, 1, 2, 3].forEach(row => {
    const block = row < 2 ? grp.raw : grp.det;
    const shift = grp.letterShift[row < 2 ? 0 : 1];
    [0, 1, 2, 3].forEach(col => {
      const letter = letters[(row % 2) * 4 + col];
      const lx = (row % 2 === 0 ? letterXTop[col] : letterXBottom[col]) + shift;
      drawPanel(grp.left + col * colStep, rowTop[row], grp.ticks, grp.colors, grp.halo,
                block[letter], letter, lx, grp.letterY[row]);
    });
  });

  // task labels under rows 2, 3 and 4
  const labelY = [560, 882, 1143];
  grp.labels.forEach((t, i) => {
    svg.append('text')
      .attr('x', grp.labelX[i]).attr('y', labelY[i])
      .attr('text-anchor', 'middle')
      .attr('font-size', 31).attr('font-style', 'italic')
      .attr('fill', '#333')
      .text(t);
  });
});

svg.append('text').attr('x', 12).attr('y', 28)
  .attr('font-size', 31).attr('font-style', 'italic').attr('fill', '#333')
  .text('raw data');
svg.append('text').attr('x', 12).attr('y', 593)
  .attr('font-size', 31).attr('font-style', 'italic').attr('fill', '#333')
  .text('drift correction');
</script>
</body>
</html>
